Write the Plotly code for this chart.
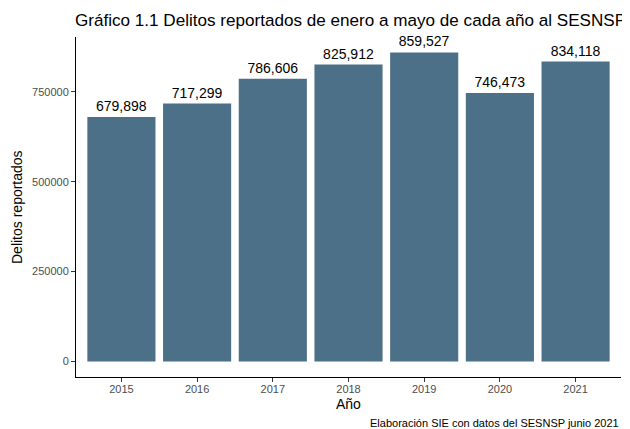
import plotly.graph_objects as go

years = ["2015", "2016", "2017", "2018", "2019", "2020", "2021"]
delitos = [679898, 717299, 786606, 825912, 859527, 746473, 834118]
y_ticks = [0, 250000, 500000, 750000]

title_text = "Gráfico 1.1 Delitos reportados de enero a mayo de cada año al SESNSP"
caption_text = "Elaboración SIE con datos del SESNSP junio 2021"

FONT = "Liberation Sans, Arial, sans-serif"
# the page body adds an 8px offset, so the figure is 8px smaller than the window
W, H = 622, 421
ML, MR, MT, MB = 68, 9, 29, 52
PW, PH = W - ML - MR, H - MT - MB

fig = go.Figure(
    go.Bar(
        x=years,
        y=delitos,
        marker=dict(color="#4d7089", line=dict(width=0)),
        texttemplate="%{y:,}",
        textposition="outside",
        textfont=dict(family=FONT, size=14, color="black"),
        cliponaxis=False,
        hoverinfo="x+y",
    )
)

ymax = max(delitos)
pad = 0.05 * ymax

fig.update_layout(
    width=W,
    height=H,
    margin=dict(l=ML, r=MR, t=MT, b=MB, autoexpand=False),
    paper_bgcolor="white",
    plot_bgcolor="white",
    bargap=0.1,
    showlegend=False,
    font=dict(family=FONT, color="black"),
    xaxis=dict(
        type="category",
        range=[-0.6, len(years) - 0.4],
        showline=True,
        linecolor="black",
        linewidth=1,
        ticks="outside",
        ticklen=4,
        tickcolor="#333333",
        tickfont=dict(size=11, color="#4d4d4d"),
        ticklabelstandoff=-2,
        showgrid=False,
        zeroline=False,
        automargin=False,
        fixedrange=True,
    ),
    yaxis=dict(
        range=[-pad, ymax + pad],
        tickvals=y_ticks,
        tickformat="d",
        showline=True,
        linecolor="black",
        linewidth=1,
        ticks="outside",
        ticklen=4,
        tickcolor="#333333",
        tickfont=dict(size=11, color="#4d4d4d"),
        showgrid=False,
        zeroline=False,
        automargin=False,
        fixedrange=True,
    ),
    annotations=[
        dict(
            text=title_text,
            xref="paper", yref="paper",
            x=0, y=1 + (MT - 13) / PH,
            xanchor="left", yanchor="middle",
            xshift=-3,
            showarrow=False,
            font=dict(size=17.1, color="black", family=FONT),
        ),
        dict(
            text="Año",
            xref="paper", yref="paper",
            x=0.5, y=-27 / PH,
            xanchor="center", yanchor="middle",
            showarrow=False,
            font=dict(size=14, color="black", family=FONT),
        ),
        dict(
            text="Delitos reportados",
            xref="paper", yref="paper",
            x=-59 / PW, y=0.5,
            xanchor="center", yanchor="middle",
            textangle=-90,
            showarrow=False,
            font=dict(size=14, color="black", family=FONT),
        ),
        dict(
            text=caption_text,
            xref="paper", yref="paper",
            x=1, y=-46 / PH,
            xanchor="right", yanchor="middle",
            showarrow=False,
            font=dict(size=11, color="black", family=FONT),
        ),
    ],
)

fig.write_html("out.html")
